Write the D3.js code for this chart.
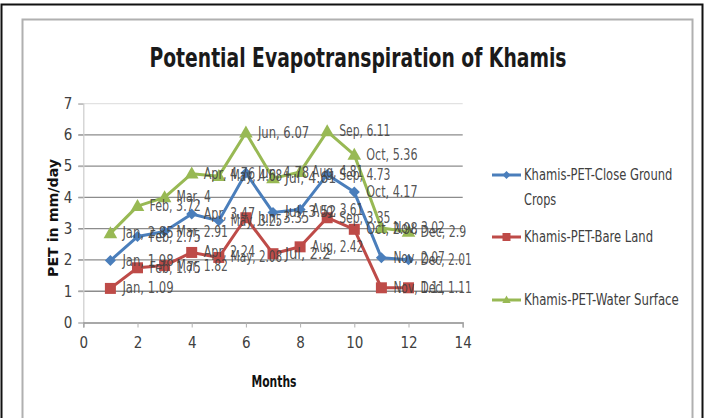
<!DOCTYPE html>
<html>
<head>
<meta charset="utf-8">
<script src="https://cdn.jsdelivr.net/npm/d3@7"></script>
<style>
  html, body { margin: 0; padding: 0; background: #fff; }
  svg { display: block; }
  text { font-family: 'Liberation Sans Narrow', 'DejaVu Sans Condensed', 'Open Sans', sans-serif; }
</style>
</head>
<body>
<svg id="chart" width="705" height="418"></svg>
<script>
// Monthly potential evapotranspiration (mm/day) at Khamis
const months = ["Jan","Feb","Mar","Apr","May","Jun","Jul","Aug","Sep","Oct","Nov","Dec"];
const monthNumbers = [1,2,3,4,5,6,7,8,9,10,11,12];
const closeGroundCrops = [1.98, 2.75, 2.91, 3.47, 3.25, 4.78, 3.52, 3.61, 4.73, 4.17, 2.07, 2.01];
const bareLand        = [1.09, 1.75, 1.82, 2.24, 2.08, 3.35, 2.2, 2.42, 3.35, 2.98, 1.11, 1.11];
const waterSurface    = [2.85, 3.72, 4, 4.76, 4.68, 6.07, 4.61, 4.81, 6.11, 5.36, 3.02, 2.9];
const seriesNames = ["Khamis-PET-Close Ground Crops", "Khamis-PET-Bare Land", "Khamis-PET-Water Surface"];
const xTicks = [0,2,4,6,8,10,12,14];
const yTicks = [0,1,2,3,4,5,6,7];

const series = [
  { name: seriesNames[0], values: closeGroundCrops, color: "#4a7ebb", marker: "diamond" },
  { name: seriesNames[1], values: bareLand,         color: "#be4b48", marker: "square" },
  { name: seriesNames[2], values: waterSurface,     color: "#98b954", marker: "triangle" }
];

const svg = d3.select("#chart");

// outer frame and chart-area border
svg.append("rect").attr("x", 1.5).attr("y", 4.5).attr("width", 701).attr("height", 430)
  .attr("fill", "none").attr("stroke", "#111").attr("stroke-width", 2);
svg.append("rect").attr("x", 22.5).attr("y", 19.5).attr("width", 670).attr("height", 420)
  .attr("fill", "#fff").attr("stroke", "#b0b0b0").attr("stroke-width", 2);

const x = d3.scaleLinear().domain([0, 14]).range([83.3, 462.7]);
const y = d3.scaleLinear().domain([0, 7]).range([322.5, 103.6]);

// narrow text: fixed advance per character
const fit = (sel, perChar) => sel.attr("textLength", function () { return this.textContent.length * perChar; })
  .attr("lengthAdjust", "spacingAndGlyphs");

// title
svg.append("text").attr("x", 358).attr("y", 67).attr("text-anchor", "middle")
  .attr("font-size", 27).attr("font-weight", "bold").attr("fill", "#1a1a1a")
  .attr("font-family", "'DejaVu Sans Condensed', sans-serif")
  .attr("textLength", 417).attr("lengthAdjust", "spacingAndGlyphs")
  .text("Potential Evapotranspiration of Khamis");

// horizontal gridlines
svg.append("g").selectAll("line").data(yTicks.filter(d => d > 0)).join("line")
  .attr("x1", x(0) - 5).attr("x2", x(14))
  .attr("y1", d => y(d)).attr("y2", d => y(d))
  .attr("stroke", d => d === 7 ? "#e2e2e2" : "#8c8c8c").attr("stroke-width", 1.3);

// y axis
const yAxis = svg.append("g").attr("transform", `translate(${x(0)},0)`)
  .call(d3.axisLeft(y).tickValues(yTicks).tickSize(5).tickPadding(6).tickFormat(d3.format("d")));
yAxis.select(".domain").attr("stroke", "#d0d0d0").attr("stroke-width", 1.3);
yAxis.selectAll(".tick line").attr("stroke", "#b0b0b0");
yAxis.selectAll(".tick text").attr("font-size", 15).attr("fill", "#404040");

// x axis
const xAxis = svg.append("g").attr("transform", `translate(0,${y(0)})`)
  .call(d3.axisBottom(x).tickValues(xTicks).tickSize(5).tickPadding(10).tickFormat(d3.format("d")));
xAxis.select(".domain").attr("stroke", "#8c8c8c").attr("stroke-width", 1.3);
xAxis.selectAll(".tick line").attr("stroke", "#b0b0b0");
xAxis.selectAll(".tick text").attr("font-size", 15).attr("fill", "#404040");

// axis titles
svg.append("text").attr("transform", "translate(58,218) rotate(-90)")
  .attr("text-anchor", "middle").attr("font-size", 14).attr("font-weight", "bold").attr("fill", "#111")
  .attr("textLength", 118).attr("lengthAdjust", "spacingAndGlyphs")
  .text("PET in mm/day");
svg.append("text").attr("x", 274).attr("y", 387).attr("text-anchor", "middle")
  .attr("font-size", 15).attr("font-weight", "bold").attr("fill", "#111")
  .attr("textLength", 45).attr("lengthAdjust", "spacingAndGlyphs")
  .text("Months");

function markerPath(type, size) {
  if (type === "diamond") return `M0,${-size}L${size},0L0,${size}L${-size},0Z`;
  if (type === "square") return `M${-size},${-size}H${size}V${size}H${-size}Z`;
  return `M0,${-size*1.1}L${size*1.05},${size*0.75}L${-size*1.05},${size*0.75}Z`;
}
const markerSize = { diamond: 5.5, square: 5.5, triangle: 6.5 };

const line = d3.line().x((d, i) => x(monthNumbers[i])).y(d => y(d));

series.forEach(s => {
  const g = svg.append("g");
  g.append("path").datum(s.values).attr("d", line)
    .attr("fill", "none").attr("stroke", s.color).attr("stroke-width", 3).attr("stroke-linejoin", "round");
  g.selectAll("path.m").data(s.values).join("path").attr("class", "m")
    .attr("transform", (d, i) => `translate(${x(monthNumbers[i])},${y(d)})`)
    .attr("d", markerPath(s.marker, markerSize[s.marker]))
    .attr("fill", s.color);
});

// data labels to the right of each point
series.forEach(s => {
  svg.append("g").selectAll("text").data(s.values).join("text")
    .attr("x", (d, i) => x(monthNumbers[i]) + 12)
    .attr("y", d => y(d) + 5)
    .attr("font-size", 15).attr("fill", "#404040").attr("fill-opacity", 0.9)
    .text((d, i) => `${months[i]}, ${d}`)
    .call(fit, 5.7);
});

// legend
const legendRows = [
  { y: 175, lines: ["Khamis-PET-Close Ground", "Crops"] },
  { y: 237, lines: ["Khamis-PET-Bare Land"] },
  { y: 300, lines: ["Khamis-PET-Water Surface"] }
];
series.forEach((s, i) => {
  const row = legendRows[i];
  const g = svg.append("g");
  g.append("line").attr("x1", 492).attr("x2", 521).attr("y1", row.y).attr("y2", row.y)
    .attr("stroke", s.color).attr("stroke-width", 3);
  g.append("path").attr("transform", `translate(506.5,${row.y})`)
    .attr("d", markerPath(s.marker, 4)).attr("fill", s.color);
  row.lines.forEach((t, k) => {
    g.append("text").attr("x", 524).attr("y", row.y + 5 + k * 25)
      .attr("font-size", 15).attr("fill", "#404040").text(t)
      .call(fit, 6.45);
  });
});
</script>
</body>
</html>
